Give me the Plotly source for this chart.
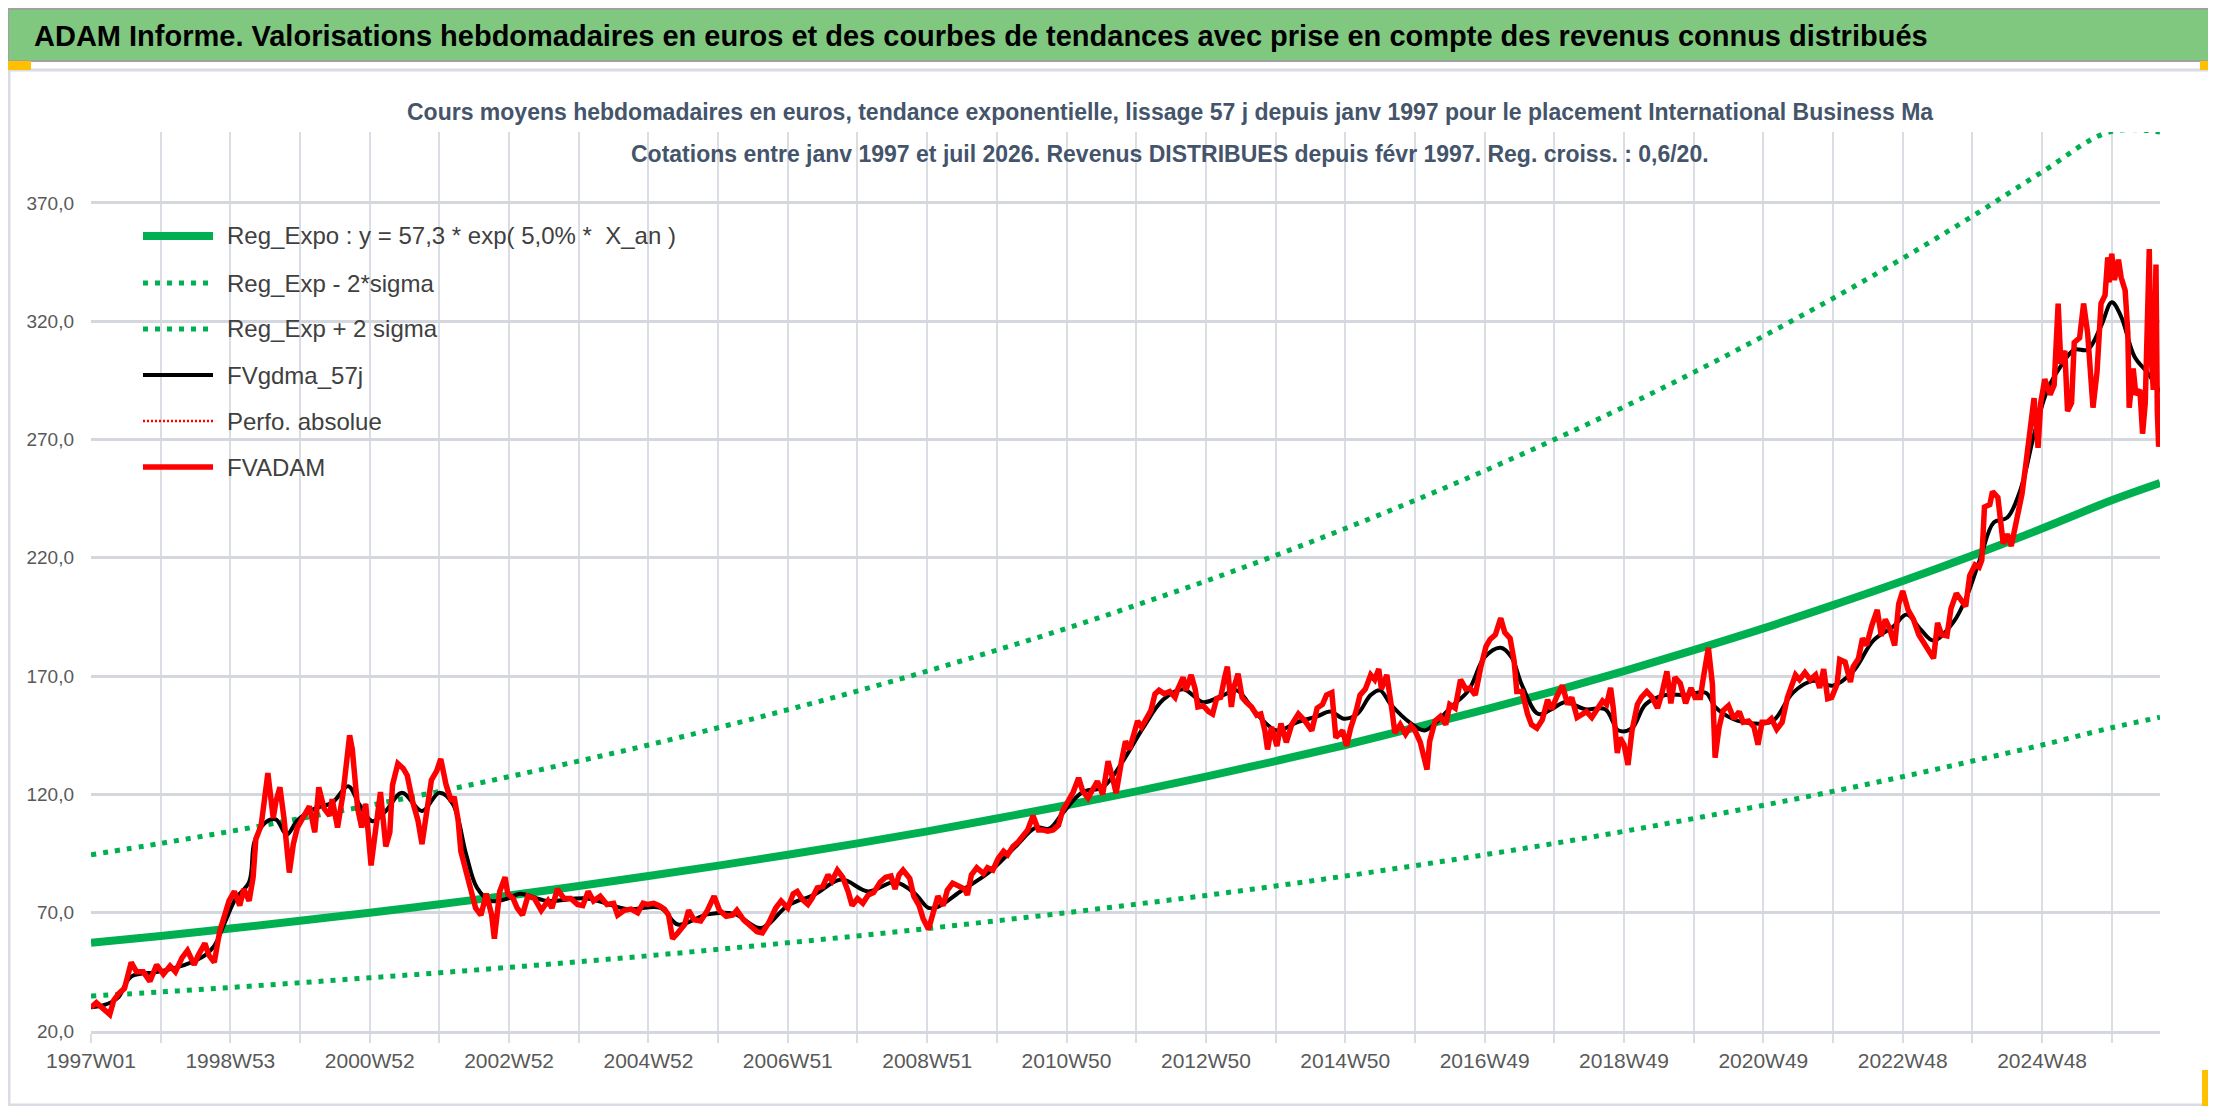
import plotly.graph_objects as go

# x axis = week index since 1997W01
tick_labels = ['1997W01', '1998W53', '2000W52', '2002W52', '2004W52', '2006W51', '2008W51',
               '2010W50', '2012W50', '2014W50', '2016W49', '2018W49', '2020W49', '2022W48', '2024W48']
y_ticks = [20, 70, 120, 170, 220, 270, 320, 370]

# Reg_Expo and bands, read once a year (every 52 weeks) + last week
trend_weeks = list(range(0, 1509, 52)) + [1544]
reg_expo = [57.3, 60.2, 63.3, 66.6, 70.0, 73.6, 77.3, 81.3, 85.5, 89.9, 94.5, 99.3, 104.4, 109.8,
            115.4, 121.3, 127.5, 134.1, 140.9, 148.2, 155.8, 163.7, 172.1, 181.0, 190.2, 200.0,
            210.2, 221.0, 232.4, 244.3, 251.6]
reg_minus = [34.8, 36.5, 38.4, 40.4, 42.5, 44.6, 46.9, 49.3, 51.8, 54.5, 57.3, 60.2, 63.3, 66.6,
             70.0, 73.6, 77.3, 81.3, 85.5, 89.9, 94.5, 99.3, 104.4, 109.8, 115.4, 121.3, 127.5,
             134.1, 140.9, 148.2, 152.6]
plus_weeks = list(range(0, 1457, 52)) + [1506, 1544]
reg_plus = [94.5, 99.3, 104.4, 109.8, 115.4, 121.3, 127.5, 134.1, 140.9, 148.2, 155.8, 163.7,
            172.1, 181.0, 190.2, 200.0, 210.2, 221.0, 232.4, 244.3, 256.8, 270.0, 283.8, 298.4,
            313.7, 329.7, 346.6, 364.4, 383.1, 400.0, 400.0]

# FVgdma_57j (smoothed), (week, value)
fvgdma = [(0, 30), (10, 31), (20, 34), (30, 43), (50, 45), (70, 48), (85, 52), (92, 56), (100, 66),
          (108, 76), (118, 83), (122, 100), (130, 108), (138, 109.4), (146, 103), (154, 109),
          (167, 114), (180, 116.5), (192, 123.5), (200, 116), (210, 108.7), (220, 113), (232, 120.7),
          (247, 113), (260, 120.7), (270, 116), (280, 94.6), (288, 80.6), (298, 75), (311, 76),
          (320, 78), (340, 75), (370, 76), (400, 71.5), (425, 72), (438, 65), (460, 69.3), (480, 69.5),
          (500, 63.5), (520, 73), (540, 77.7), (560, 84), (580, 79), (600, 83), (615, 78), (625, 72),
          (632, 72.5), (650, 79.5), (670, 87), (690, 98), (705, 106), (715, 105.5), (725, 112),
          (740, 121), (755, 123), (770, 134), (785, 148), (800, 160), (815, 164.5), (830, 159),
          (845, 162), (855, 164), (870, 154), (885, 147), (900, 150.5), (915, 153), (925, 155),
          (935, 152), (945, 154), (955, 162), (962, 164), (970, 158), (985, 150), (995, 147),
          (1003, 150), (1015, 157), (1028, 164), (1040, 178), (1052, 182), (1060, 178), (1068, 166),
          (1080, 154), (1090, 156), (1100, 159), (1115, 156), (1130, 156), (1140, 147), (1150, 148),
          (1160, 158), (1175, 162), (1190, 162), (1205, 163), (1212, 157), (1225, 152), (1240, 150),
          (1255, 151), (1270, 163), (1285, 168), (1300, 166), (1315, 172), (1330, 185), (1345, 191),
          (1355, 196), (1365, 190), (1375, 185), (1390, 193), (1400, 204), (1410, 220), (1420, 235),
          (1430, 237), (1440, 249), (1450, 272), (1460, 291), (1470, 301), (1480, 308), (1490, 308),
          (1500, 318), (1508, 328), (1515, 322), (1525, 305), (1535, 298), (1544, 290)]

# FVADAM weekly prices, (week, value)
fvadam = [(0, 30), (4, 32), (8, 30), (14, 27), (17, 33), (21, 36), (25, 38), (30, 49), (34, 45), (39, 45),
          (44, 41), (49, 48), (54, 44), (59, 47.5), (63, 45), (68, 51), (72, 54), (77, 48), (80, 52),
          (85, 57), (88, 52), (92, 49), (96, 62), (100, 69), (103, 75), (107, 79), (111, 73), (114, 80),
          (118, 75), (121, 85), (123, 101), (127, 107), (129, 118), (132, 129), (136, 110), (138, 117),
          (141, 123), (144, 110), (148, 87), (151, 99), (154, 106), (159, 111), (163, 115), (167, 104),
          (170, 123), (174, 114), (178, 111), (180, 118), (184, 106), (188, 120), (193, 145), (195, 139),
          (199, 114), (202, 106), (205, 116), (209, 90), (212, 104), (216, 121), (220, 98), (223, 104),
          (225, 124), (229, 133), (233, 131), (236, 128), (240, 117), (244, 109), (247, 99), (250, 111),
          (254, 126), (258, 130), (261, 135), (265, 124), (269, 117), (271, 119), (274, 109), (276, 96),
          (280, 88), (284, 78), (287, 72), (291, 69), (295, 78), (299, 69), (301, 59), (305, 79), (309, 85),
          (311, 78), (315, 76), (318, 72), (322, 69), (326, 77), (331, 76), (336, 71), (341, 75), (344, 72),
          (348, 80), (353, 76), (358, 76), (363, 73.5), (367, 73), (371, 79), (375, 75), (380, 77),
          (385, 73.5), (390, 74), (393, 69), (398, 71), (403, 71.5), (408, 70), (412, 74), (415, 73.5),
          (420, 74), (424, 73), (428, 71.5), (431, 69), (434, 59), (438, 61.5), (443, 65), (446, 71),
          (450, 67), (455, 66.5), (460, 71), (465, 77), (469, 71), (474, 68.5), (479, 69), (482, 71),
          (487, 67), (492, 64.5), (497, 62), (501, 61.5), (506, 66), (511, 72), (515, 75), (520, 72),
          (524, 78), (527, 79), (531, 75.5), (535, 73.5), (538, 76), (542, 80.5), (546, 81), (550, 86),
          (553, 83.5), (557, 88), (561, 85), (565, 79), (568, 73), (572, 76), (576, 74), (580, 77.5),
          (584, 78.5), (589, 83), (593, 85), (597, 85.5), (600, 80), (603, 86), (606, 88), (611, 84.5),
          (614, 77), (618, 73), (621, 67.5), (625, 63), (628, 70), (632, 77), (636, 73), (639, 79.5),
          (643, 82.5), (648, 81), (652, 80), (654, 77.5), (657, 86), (661, 89), (666, 86.5), (669, 89),
          (673, 88), (677, 93), (681, 96), (684, 94.5), (688, 98), (692, 100), (695, 102), (699, 105),
          (703, 111), (707, 105), (710, 105), (714, 104.5), (718, 105), (722, 107), (725, 113), (729, 117),
          (733, 121), (737, 127), (740, 121.5), (744, 118.5), (748, 123), (751, 125.5), (755, 120),
          (759, 134), (763, 125.5), (765, 120.5), (769, 134), (772, 142.5), (775, 139), (778, 146),
          (781, 151), (784, 148.5), (788, 152.5), (791, 155.5), (794, 162.5), (797, 164), (801, 162.5),
          (805, 163.5), (809, 161), (811, 164.5), (815, 169.5), (817, 164), (821, 170.5), (824, 164.5),
          (826, 157), (830, 157.5), (834, 155), (837, 154), (840, 160.5), (843, 161), (846, 169.5),
          (848, 174), (851, 157), (853, 165.5), (856, 171), (859, 161), (862, 159), (866, 157),
          (870, 153.5), (873, 154), (876, 147), (878, 139), (881, 148.5), (885, 140.5), (888, 150),
          (892, 142), (896, 149.5), (901, 154), (906, 151), (911, 147), (915, 156.5), (919, 158),
          (922, 162), (926, 163), (929, 144), (934, 147), (937, 140.5), (940, 148), (944, 155), (947, 162),
          (951, 164.5), (955, 170.5), (958, 168.5), (961, 173), (963, 164.5), (967, 170.5), (971, 155),
          (973, 146), (977, 149.5), (981, 145.5), (985, 149), (988, 147), (992, 142), (995, 134),
          (997, 130.5), (999, 142.5), (1003, 151), (1007, 153), (1011, 149.5), (1014, 158), (1018, 156.5),
          (1022, 168.5), (1026, 164.5), (1029, 165), (1033, 162), (1037, 173.5), (1041, 182.5),
          (1044, 185.5), (1048, 187.5), (1052, 194.5), (1055, 188.5), (1059, 186), (1062, 176.5),
          (1064, 163.5), (1068, 163.5), (1072, 154), (1075, 149.5), (1079, 148), (1083, 151.5), (1087, 160),
          (1090, 156), (1094, 161.5), (1098, 166), (1102, 158), (1105, 161), (1109, 152.5), (1113, 154),
          (1116, 155), (1120, 152.5), (1124, 156.5), (1128, 159.5), (1131, 158), (1134, 165), (1136, 156.5),
          (1139, 137.5), (1141, 144), (1144, 141), (1147, 132.5), (1150, 147), (1154, 158), (1157, 161),
          (1161, 163.5), (1165, 161), (1169, 156.5), (1172, 162), (1176, 172), (1179, 158.5), (1182, 169.5),
          (1186, 167), (1190, 158.5), (1194, 165), (1197, 161), (1201, 161), (1203, 168.5), (1207, 182),
          (1210, 166.5), (1212, 135.5), (1215, 148.5), (1218, 155.5), (1222, 157.5), (1226, 152), (1230, 155),
          (1233, 150.5), (1237, 151), (1241, 148.5), (1244, 141), (1247, 150.5), (1251, 150.5), (1254, 152),
          (1258, 147.5), (1262, 150.5), (1266, 161), (1269, 166.5), (1272, 170.5), (1275, 168.5),
          (1279, 171.5), (1283, 168.5), (1287, 170.5), (1290, 165), (1293, 173), (1296, 160.5), (1299, 161),
          (1303, 166.5), (1305, 177), (1309, 176), (1313, 167.5), (1315, 174), (1319, 177.5), (1322, 186),
          (1325, 183), (1329, 191.5), (1333, 198), (1336, 187), (1339, 194), (1342, 190.5), (1346, 183),
          (1349, 200.5), (1352, 206), (1356, 198), (1360, 194), (1364, 187.5), (1367, 185), (1371, 181.5),
          (1375, 177.5), (1378, 192.5), (1381, 187.5), (1385, 187), (1388, 198.5), (1392, 205),
          (1396, 201.5), (1399, 199.5), (1402, 212.5), (1406, 217), (1409, 216), (1411, 219), (1413, 241.5),
          (1417, 242.5), (1419, 248), (1423, 245.5), (1427, 226), (1430, 230), (1433, 225), (1437, 235.5),
          (1441, 247), (1444, 260), (1447, 274.5), (1450, 287.5), (1453, 266.5), (1455, 285.5),
          (1458, 295.5), (1462, 289), (1465, 293), (1468, 327.5), (1470, 302), (1473, 307.5), (1475, 282),
          (1478, 285.5), (1480, 311), (1484, 313), (1487, 327.5), (1490, 315), (1494, 283.5), (1497, 298.5),
          (1500, 327.5), (1503, 331), (1505, 347), (1506, 336.5), (1508, 348.5), (1510, 337.5), (1513, 346),
          (1515, 338.5), (1518, 333), (1520, 315), (1521, 283.5), (1524, 300), (1526, 289), (1529, 291),
          (1531, 272.5), (1533, 285.5), (1536, 350.5), (1537, 309), (1539, 291), (1541, 344), (1542, 282),
          (1543, 267), (1544, 278)]

W, H = 2216, 1106
L, R, T, B = 83, 2152, 124, 1023   # plot area in page pixels
FONT = 'Liberation Sans, Arial, sans-serif'
GREEN = '#00B050'
GRID = '#dadde3'


def xp(px):
    return (px - L) / (R - L)


def yp(py):
    return (B - py) / (B - T)


gd_w = [p[0] for p in fvgdma]
gd_v = [p[1] for p in fvgdma]
fv_w = [p[0] for p in fvadam]
fv_v = [p[1] for p in fvadam]

series_style = {
    'Reg_Expo : y = 57,3 * exp( 5,0% * \u00a0X_an )': dict(color=GREEN, width=8),
    'Reg_Exp - 2*sigma': dict(color=GREEN, width=5, dash='5px,7px'),
    'Reg_Exp + 2 sigma': dict(color=GREEN, width=5, dash='5px,7px'),
    'FVgdma_57j': dict(color='#000000', width=4),
    'Perfo. absolue': dict(color='#FF0000', width=2.5, dash='2px,2px'),
    'FVADAM': dict(color='#FF0000', width=5.5),
}
names = list(series_style)

fig = go.Figure()
fig.add_trace(go.Scatter(x=trend_weeks, y=reg_expo, mode='lines', line_shape='spline',
                         name=names[0], line=series_style[names[0]]))
fig.add_trace(go.Scatter(x=trend_weeks, y=reg_minus, mode='lines', line_shape='spline',
                         name=names[1], line=series_style[names[1]]))
fig.add_trace(go.Scatter(x=plus_weeks, y=reg_plus, mode='lines', line_shape='spline',
                         name=names[2], line=series_style[names[2]]))
fig.add_trace(go.Scatter(x=gd_w, y=gd_v, mode='lines', line_shape='spline',
                         name=names[3], line=series_style[names[3]]))
fig.add_trace(go.Scatter(x=fv_w, y=fv_v, mode='lines', name=names[4], line=series_style[names[4]]))
fig.add_trace(go.Scatter(x=fv_w, y=fv_v, mode='lines', name=names[5], line=series_style[names[5]]))

minor_weeks = list(range(52, 1545, 104))

fig.update_xaxes(range=[0, 1544], tickmode='array', tickvals=list(range(0, 1545, 104)),
                 ticktext=tick_labels, showgrid=True, gridcolor=GRID, gridwidth=1.5,
                 ticks='outside', ticklen=9, tickcolor=GRID, tickwidth=1.5,
                 showline=True, linecolor='#d4d7dd', linewidth=3, zeroline=False,
                 ticklabelstandoff=0,
                 tickfont=dict(family=FONT, size=21, color='#595959'),
                 minor=dict(tickmode='array', tickvals=minor_weeks, showgrid=True, gridcolor=GRID,
                            gridwidth=1.5, ticks='outside', ticklen=9, tickcolor=GRID, tickwidth=1.5))
fig.update_yaxes(range=[20, 400], tickmode='array', tickvals=y_ticks, tickformat='.1f',
                 showgrid=True, gridcolor='#d4d7dd', gridwidth=2.5, zeroline=False, ticks='',
                 ticklabelstandoff=16,
                 tickfont=dict(family=FONT, size=19, color='#595959'))

shapes = [
    # chart frame
    dict(type='rect', xref='paper', yref='paper', x0=xp(1), x1=xp(2208), y0=yp(1097), y1=yp(62),
         line=dict(color='#d9dce3', width=3), fillcolor='rgba(0,0,0,0)', layer='below'),
    # green header band
    dict(type='rect', xref='paper', yref='paper', x0=xp(0), x1=xp(2214), y0=yp(53), y1=yp(1),
         line=dict(color='#a0a0a0', width=2), fillcolor='#80c880', layer='below'),
    # selection handles
    dict(type='rect', xref='paper', yref='paper', x0=xp(0), x1=xp(23), y0=yp(62), y1=yp(53),
         line=dict(width=0), fillcolor='#ffc000'),
    dict(type='rect', xref='paper', yref='paper', x0=xp(2192), x1=xp(2215), y0=yp(62), y1=yp(53),
         line=dict(width=0), fillcolor='#ffc000'),
    dict(type='rect', xref='paper', yref='paper', x0=xp(2208), x1=xp(2215), y0=yp(72), y1=yp(53),
         line=dict(width=0), fillcolor='#ffc000'),
    dict(type='rect', xref='paper', yref='paper', x0=xp(2194), x1=xp(2216), y0=yp(1103), y1=yp(1062),
         line=dict(width=0), fillcolor='#ffc000'),
    dict(type='rect', xref='paper', yref='paper', x0=xp(0), x1=xp(21), y0=yp(1106), y1=yp(1099),
         line=dict(width=0), fillcolor='#ffc000'),
    dict(type='rect', xref='paper', yref='paper', x0=xp(883), x1=xp(1028), y0=yp(1106), y1=yp(1101),
         line=dict(width=0), fillcolor='#e6df3c'),
    dict(type='rect', xref='paper', yref='paper', x0=xp(1316), x1=xp(1472), y0=yp(1106), y1=yp(1101),
         line=dict(width=0), fillcolor='#e6df3c'),
    dict(type='line', xref='paper', yref='paper', x0=xp(0), x1=xp(2216), y0=yp(1104), y1=yp(1104),
         line=dict(color='#8c8c8c', width=3)),
]

annotations = [
    dict(text='ADAM Informe. Valorisations hebdomadaires en euros et des courbes de tendances avec '
              'prise en compte des revenus connus distribués',
         xref='paper', yref='paper', x=xp(24), y=yp(28), xanchor='left', yanchor='middle',
         showarrow=False, font=dict(family=FONT, size=29, color='#000000', weight='bold')),
    dict(text='Cours moyens hebdomadaires en euros, tendance exponentielle, lissage 57 j depuis janv 1997 '
              'pour le placement International Business Ma',
         xref='paper', yref='paper', x=xp(1162), y=yp(104), xanchor='center', yanchor='middle',
         showarrow=False, font=dict(family=FONT, size=23, color='#44546a', weight='bold')),
    dict(text='Cotations entre janv 1997 et juil 2026. Revenus DISTRIBUES depuis févr 1997. '
              'Reg. croiss. : 0,6/20.',
         xref='paper', yref='paper', x=xp(1162), y=yp(146), xanchor='center', yanchor='middle',
         showarrow=False, font=dict(family=FONT, size=23, color='#44546a', weight='bold')),
]

# legend drawn as sample lines + text, Excel style (long sample strokes)
legend_rows = [228, 275, 321, 367, 413, 459]
for name, row in zip(names, legend_rows):
    shapes.append(dict(type='line', xref='paper', yref='paper', x0=xp(135), x1=xp(205),
                       y0=yp(row), y1=yp(row), line=series_style[name]))
    annotations.append(dict(text=name, xref='paper', yref='paper', x=xp(217), y=yp(row),
                            xanchor='left', yanchor='middle', showarrow=False,
                            font=dict(family=FONT, size=24, color='#404040')))

fig.update_layout(width=W, height=H, margin=dict(l=L, r=W - R, t=T, b=H - B, pad=0),
                  paper_bgcolor='white', plot_bgcolor='white', separators=', ',
                  shapes=shapes, annotations=annotations, showlegend=False)

fig.write_html('out.html')
